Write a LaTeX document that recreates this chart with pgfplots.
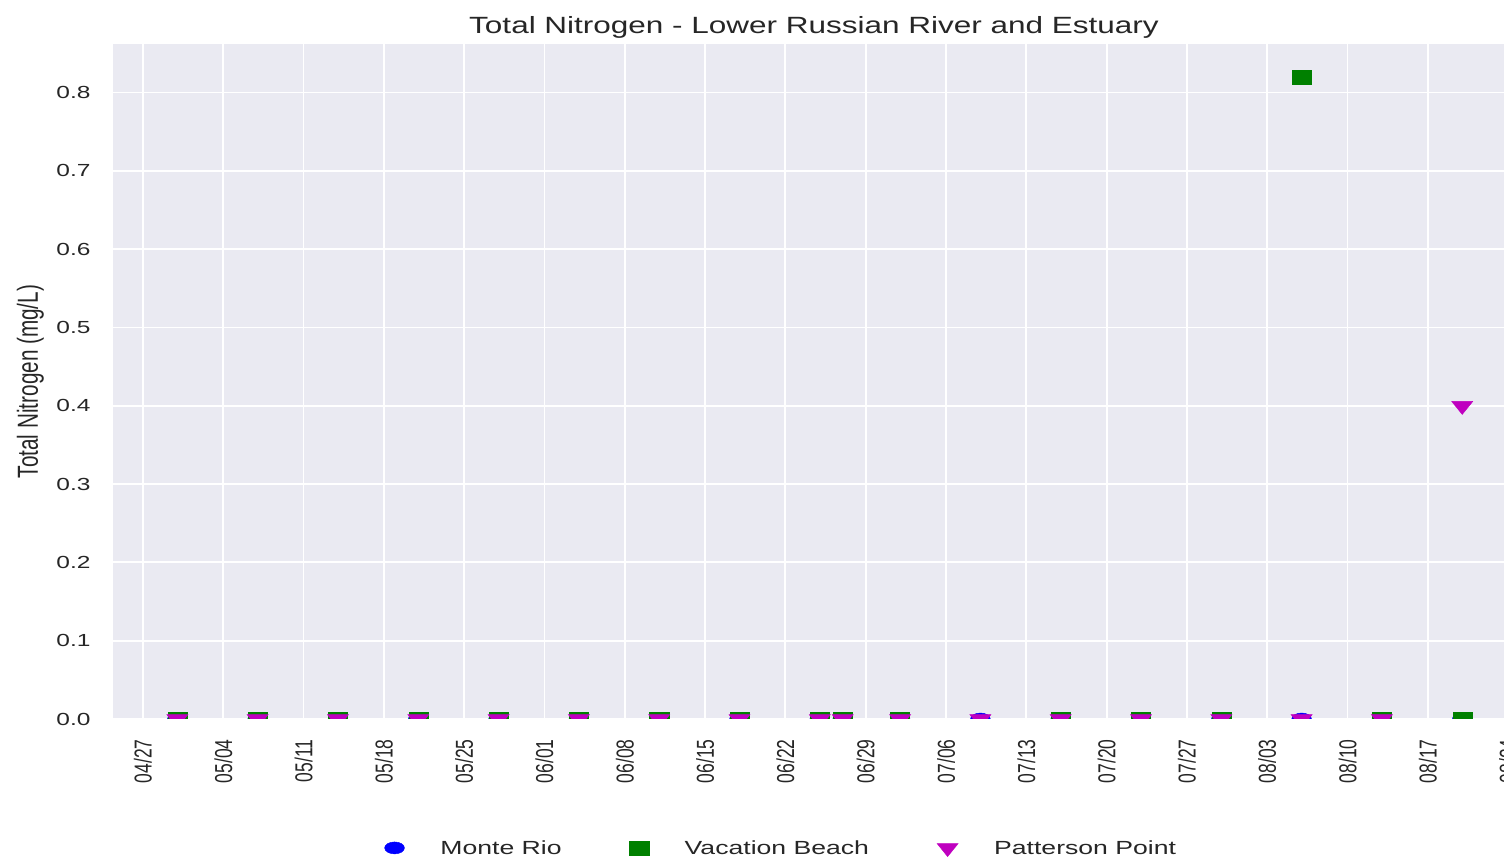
\documentclass[border=0pt]{standalone}
\usepackage{pgfplots}
\pgfplotsset{compat=1.18}
\usepackage{fontspec}
\setmainfont{Liberation Sans}
\newfontfamily\hfont[FakeStretch=1.4]{Liberation Sans}
\newfontfamily\tfont[FakeStretch=1.34]{Liberation Sans}
\newfontfamily\vfont[FakeStretch=0.714]{Liberation Sans}
\definecolor{bgc}{HTML}{EAEAF2}
\definecolor{txt}{HTML}{262626}
\definecolor{mrio}{HTML}{0000FF}
\definecolor{vbeach}{HTML}{008000}
\definecolor{ppoint}{HTML}{BF00BF}
\begin{document}
\begin{tikzpicture}
\begin{axis}[
  at={(113pt,143pt)}, anchor=south west,
  scale only axis, width=1402pt, height=675pt,
  xmin=-2.61, xmax=119.6, ymin=0, ymax=0.862,
  axis background/.style={fill=bgc},
  axis line style={draw=none},
  major tick length=0pt,
  grid=major,
  major grid style={white, line width=1.8pt},
  xtick={0,7,...,119},
  xticklabels={04/27,05/04,05/11,05/18,05/25,06/01,06/08,06/15,06/22,06/29,07/06,07/13,07/20,07/27,08/03,08/10,08/17,08/24},
  xticklabel style={rotate=90, anchor=east, font=\vfont\fontsize{24.5}{28}\selectfont, text=txt},
  ytick={0,0.1,...,0.8},
  yticklabel style={font=\hfont\fontsize{17.5}{20}\selectfont, text=txt,
    /pgf/number format/.cd, fixed, fixed zerofill, precision=1, assume math mode=true},
  xticklabel shift=17pt,
  yticklabel shift=19pt,
  ylabel={Total Nitrogen (mg/L)},
  ylabel style={at={(axis description cs:-0.059,0.5)}, anchor=center, rotate=0,
    font=\vfont\fontsize{29}{32}\selectfont, text=txt},
  title={Total Nitrogen - Lower Russian River and Estuary},
  title style={at={(axis description cs:0.5,1)}, anchor=center, yshift=11pt,
    font=\tfont\fontsize{23.5}{27}\selectfont, text=txt},
  clip marker paths=true,
  legend columns=3,
  legend style={at={(axis description cs:0.476,-0.191)}, anchor=center,
    draw=none, fill=none,
    font=\hfont\fontsize{19}{22}\selectfont, text=txt,
    nodes={inner xsep=0pt, inner ysep=2pt},
    /tikz/every odd column/.append style={column sep=36pt},
    /tikz/every even column/.append style={column sep=68pt}},
  legend image code/.code={\draw[mark repeat=2,mark phase=2,#1] plot coordinates {(0pt,0pt) (24pt,0pt) (48pt,0pt)};},
]
\addplot[only marks, mark=*, mark size=6pt, color=mrio, mark options={draw=none, fill=mrio, xscale=1.65}]
  coordinates {(3,0) (10,0) (17,0) (24,0) (31,0) (38,0) (45,0) (52,0) (59,0) (61,0) (66,0) (73,0) (80,0) (87,0) (94,0) (101,0) (108,0) (115,0)};
\addlegendentry{Monte Rio}
\addplot[only marks, mark=square*, mark size=7pt, color=vbeach, mark options={draw=none, fill=vbeach, xscale=1.36}]
  coordinates {(3,0) (10,0) (17,0) (24,0) (31,0) (38,0) (45,0) (52,0) (59,0) (61,0) (66,0) (80,0) (87,0) (94,0) (101,0.82) (108,0) (115,0)};
\addlegendentry{Vacation Beach}
\addplot[only marks, mark=triangle*, mark size=8.7pt, color=ppoint, mark options={draw=none, fill=ppoint, rotate=180, xscale=1.4}]
  coordinates {(3,0) (10,0) (17,0) (24,0) (31,0) (38,0) (45,0) (52,0) (59,0) (61,0) (66,0) (73,0) (80,0) (87,0) (94,0) (101,0) (108,0) (115,0.40)};
\addlegendentry{Patterson Point}
\end{axis}
\pgfresetboundingbox
\path[use as bounding box] (0,0) rectangle (1504pt,862pt);
\end{tikzpicture}
\end{document}
